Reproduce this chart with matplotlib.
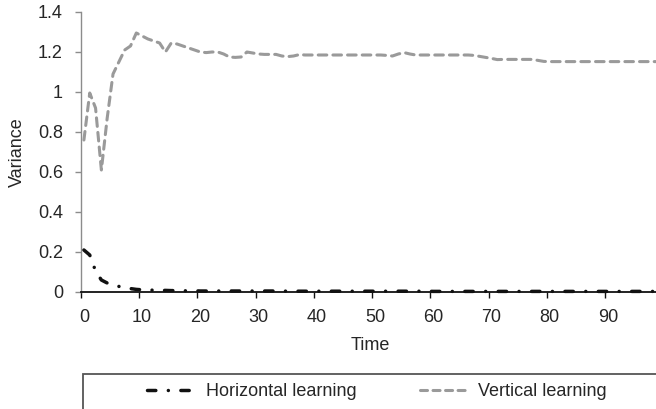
import numpy as np
import matplotlib
matplotlib.use("Agg")
import matplotlib.pyplot as plt
from matplotlib.patches import Rectangle
from matplotlib.lines import Line2D

# ---------------------------------------------------------------
# DATA
# ---------------------------------------------------------------
time = list(range(100))

horizontal = [
    0.210, 0.185, 0.105, 0.060, 0.045, 0.035, 0.028, 0.022, 0.017, 0.013,
    0.011, 0.010, 0.009, 0.008, 0.008, 0.007, 0.007, 0.006, 0.006, 0.006,
    0.005, 0.005, 0.005, 0.005, 0.005, 0.005, 0.005, 0.005, 0.005, 0.005,
    0.005, 0.005, 0.005, 0.005, 0.005, 0.004, 0.004, 0.004, 0.004, 0.004,
    0.004, 0.004, 0.004, 0.004, 0.004, 0.004, 0.004, 0.004, 0.004, 0.004,
    0.004, 0.004, 0.004, 0.004, 0.004, 0.004, 0.004, 0.004, 0.004, 0.004,
    0.003, 0.003, 0.003, 0.003, 0.003, 0.003, 0.003, 0.003, 0.003, 0.003,
    0.003, 0.003, 0.003, 0.003, 0.003, 0.003, 0.003, 0.003, 0.003, 0.003,
    0.003, 0.003, 0.003, 0.003, 0.003, 0.003, 0.003, 0.003, 0.003, 0.003,
    0.003, 0.003, 0.003, 0.003, 0.003, 0.003, 0.003, 0.003, 0.003, 0.003,
]

vertical = [
    0.760, 0.995, 0.920, 0.610, 0.870, 1.090, 1.150, 1.210, 1.230, 1.295,
    1.280, 1.265, 1.255, 1.245, 1.200, 1.245, 1.240, 1.230, 1.220, 1.210,
    1.200, 1.197, 1.200, 1.200, 1.190, 1.175, 1.173, 1.175, 1.200, 1.195,
    1.190, 1.188, 1.188, 1.188, 1.180, 1.177, 1.180, 1.187, 1.185, 1.185,
    1.185, 1.185, 1.185, 1.185, 1.185, 1.185, 1.185, 1.185, 1.185, 1.185,
    1.185, 1.185, 1.183, 1.180, 1.190, 1.197, 1.190, 1.185, 1.185, 1.185,
    1.185, 1.185, 1.185, 1.185, 1.185, 1.185, 1.185, 1.183, 1.178, 1.173,
    1.168, 1.162, 1.163, 1.163, 1.163, 1.163, 1.163, 1.163, 1.158, 1.153,
    1.152, 1.152, 1.152, 1.152, 1.152, 1.152, 1.152, 1.152, 1.152, 1.152,
    1.152, 1.152, 1.152, 1.152, 1.152, 1.152, 1.152, 1.152, 1.152, 1.152,
]

y_ticks = [0, 0.2, 0.4, 0.6, 0.8, 1.0, 1.2, 1.4]
y_tick_labels = ["0", "0.2", "0.4", "0.6", "0.8", "1", "1.2", "1.4"]
x_ticks = [0, 10, 20, 30, 40, 50, 60, 70, 80, 90]

# ---------------------------------------------------------------
# STYLE
# ---------------------------------------------------------------
plt.rcParams['font.family'] = ['Liberation Sans', 'DejaVu Sans']
FS = 13
TXT = '#262626'
GRAY_LINE = '#9a9a9a'

W, H = 656, 409
fig = plt.figure(figsize=(W / 100, H / 100), dpi=100)

# axes: 0 at px 81, 100 categories at 5.822 px each; y=0 at px 292, 1.4 at px 12
ax = fig.add_axes([81 / W, (H - 292) / H, 582.2 / W, 280 / H])

# categories sit in the middle of their slot (Excel style)
xpos = np.array(time) + 0.5

ax.plot(xpos, vertical, color=GRAY_LINE, lw=2.2, dashes=(2.8, 2.0),
        dash_capstyle='round', solid_capstyle='round', label='Vertical learning',
        zorder=3)
ax.plot(xpos, horizontal, color='#111111', lw=2.5, dashes=(2.4, 3.6, 0.01, 3.6),
        dash_capstyle='round', label='Horizontal learning', zorder=4, clip_on=False)

ax.set_xlim(0, 100)
ax.set_ylim(0, 1.4)

for side in ['top', 'right']:
    ax.spines[side].set_visible(False)
ax.spines['left'].set_color('#8c8c8c')
ax.spines['left'].set_linewidth(1.0)
ax.spines['bottom'].set_color('#111111')
ax.spines['bottom'].set_linewidth(1.3)
ax.spines['bottom'].set_zorder(5)

ax.set_yticks(y_ticks)
ax.set_yticklabels(y_tick_labels)
ax.tick_params(axis='y', direction='out', length=4.5, width=1.0, color='#8c8c8c',
               pad=8.5, labelsize=FS, labelcolor=TXT)

# major x ticks carry the tick marks, minor ones (shifted half a slot) the labels
ax.set_xticks(x_ticks)
ax.set_xticklabels([])
ax.set_xticks([t + 0.5 for t in x_ticks], minor=True)
ax.set_xticklabels([str(t) for t in x_ticks], minor=True)
ax.tick_params(axis='x', which='major', direction='out', length=4.5, width=1.0,
               color='#111111')
ax.tick_params(axis='x', which='minor', length=0, pad=12, labelsize=FS,
               labelcolor=TXT)

fig.text(17.5 / W, 1 - 152 / H, 'Variance', rotation=90, ha='center', va='center',
         fontsize=FS, color=TXT)
fig.text(370 / W, 1 - 345 / H, 'Time', ha='center', va='center',
         fontsize=FS, color=TXT)

# ---------------------------------------------------------------
# LEGEND (box runs off the right and bottom edges)
# ---------------------------------------------------------------
fig.patches.append(Rectangle((83 / W, -0.2), 1.0, 0.2 + 1 - 374 / H,
                             transform=fig.transFigure, fill=False,
                             edgecolor='#555555', lw=1.3))

h_handle = Line2D([], [], color='#111111', lw=2.5, dashes=(2.4, 3.6, 0.01, 3.6),
                  dash_capstyle='round')
v_handle = Line2D([], [], color=GRAY_LINE, lw=2.2, dashes=(2.3, 1.8),
                  dash_capstyle='round')
fig.legend([h_handle, v_handle], ['Horizontal learning', 'Vertical learning'],
           loc='center left', bbox_to_anchor=(147 / W, 1 - 392 / H), ncol=2,
           frameon=False, fontsize=FS, handlelength=2.8, handletextpad=0.45,
           columnspacing=3.5, borderpad=0, borderaxespad=0, labelcolor=TXT)

fig.savefig('out.png', dpi=100)
